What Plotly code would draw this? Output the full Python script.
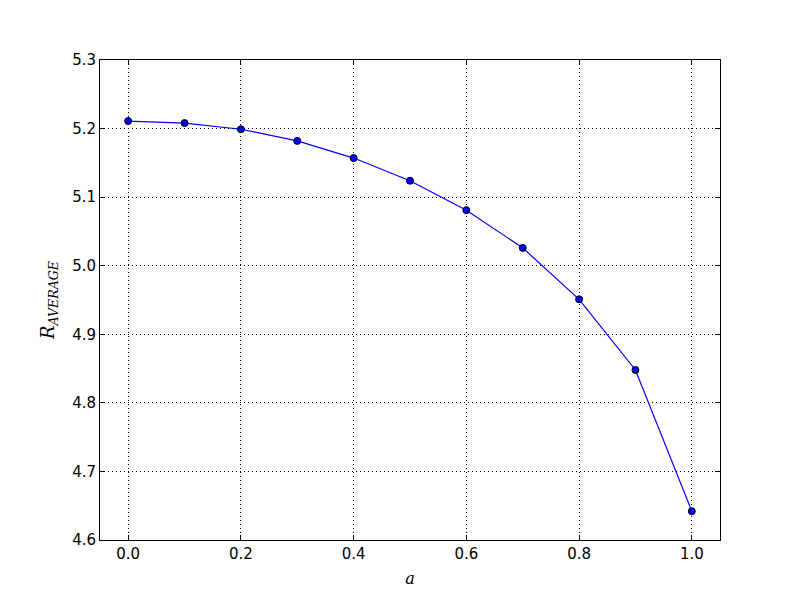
import plotly.graph_objects as go

a_vals = [0.0, 0.1, 0.2, 0.3, 0.4, 0.5, 0.6, 0.7, 0.8, 0.9, 1.0]
r_avg = [5.211, 5.208, 5.199, 5.182, 5.157, 5.124, 5.081, 5.026, 4.951, 4.848, 4.642]

x_ticks = [0.0, 0.2, 0.4, 0.6, 0.8, 1.0]
y_ticks = [4.6, 4.7, 4.8, 4.9, 5.0, 5.1, 5.2, 5.3]

fig = go.Figure()
fig.add_trace(go.Scatter(
    x=a_vals, y=r_avg, mode="lines+markers",
    line=dict(color="#0000ff", width=1.2),
    marker=dict(color="#0000ff", size=7, line=dict(color="black", width=1)),
    showlegend=False,
))

axis_common = dict(
    showline=True, linecolor="black", linewidth=1, mirror="ticks",
    ticks="inside", ticklen=5, tickcolor="black",
    showgrid=True, gridcolor="black", griddash="1px,3px", gridwidth=0.7,
    zeroline=False, automargin=False,
    tickfont=dict(family="DejaVu Sans", size=15, color="black"),
)

fig.update_xaxes(range=[-0.05, 1.05], tickvals=x_ticks,
                 ticktext=[f"{v:.1f}" for v in x_ticks],
                 title=dict(text="<i>a</i>", font=dict(family="DejaVu Serif", size=16, color="black"), standoff=10),
                 **axis_common)
fig.update_yaxes(range=[4.6, 5.3], tickvals=y_ticks,
                 ticktext=[f"{v:.1f}" for v in y_ticks],
                 title=dict(text="<i>R</i><sub><i>AVERAGE</i></sub>", font=dict(family="DejaVu Serif", size=18, color="black"), standoff=12),
                 **axis_common)

fig.update_layout(
    width=800, height=600,
    margin=dict(l=92, r=88, t=52, b=68, autoexpand=False),
    plot_bgcolor="white", paper_bgcolor="white",
)

fig.write_html("out.html")
